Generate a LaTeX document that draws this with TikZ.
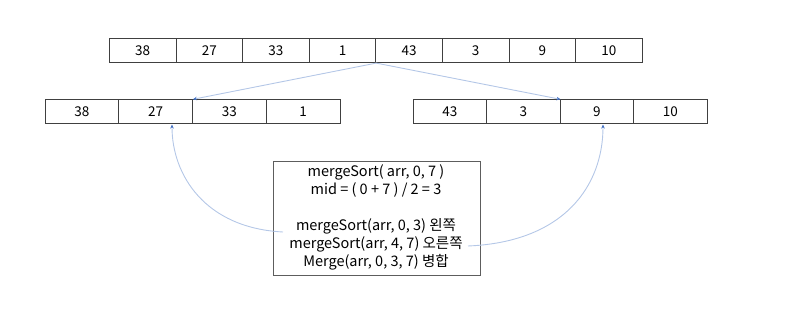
\documentclass[tikz,border=0pt]{standalone}
\usepackage{fontspec}
\setmainfont{Noto Sans CJK KR}
\usetikzlibrary{arrows.meta}
\definecolor{cellline}{HTML}{404040}
\definecolor{linkblue}{HTML}{B4C7E7}
\definecolor{tipblue}{HTML}{4472C4}
\begin{document}
\begin{tikzpicture}[x=1pt,y=-1pt,
  cell/.style={draw=cellline,line width=0.8pt,minimum height=24pt,inner sep=0pt,anchor=north west,font=\fontsize{13.5}{15}\selectfont},
  link/.style={draw=linkblue,line width=0.9pt,-{Stealth[length=4pt,width=3.5pt,color=tipblue]}},
  codebox/.style={draw=cellline!85,line width=0.8pt,minimum width=207pt,minimum height=114pt,anchor=north west,inner sep=0pt}]
\useasboundingbox (0,0) rectangle (800,312);
% top array
\foreach \v [count=\i] in {38,27,33,1,43,3,9,10}{
  \node[cell,minimum width=66.6pt] (t\i) at ({109+(\i-1)*66.6},38.3) {\v};
}
% left array
\foreach \v [count=\i] in {38,27,33,1}{
  \node[cell,minimum width=73.8pt] (l\i) at ({44.5+(\i-1)*73.8},99.3) {\v};
}
% right array
\foreach \v [count=\i] in {43,3,9,10}{
  \node[cell,minimum width=73.5pt] (r\i) at ({412.7+(\i-1)*73.5},99.3) {\v};
}
% code box
\node[codebox] (box) at (272.7,160.7) {};
\node[font=\fontsize{14.5}{18}\selectfont,align=center,anchor=north,inner sep=0pt] (code) at (376,164)
 {mergeSort( arr, 0, 7 )\\mid = ( 0 + 7 ) / 2 = 3\\[18pt]mergeSort(arr, 0, 3) 왼쪽\\mergeSort(arr, 4, 7) 오른쪽\\Merge(arr, 0, 3, 7) 병합};
% split arrows
\draw[link] (t4.south east) -- (l2.north east);
\draw[link] (t4.south east) -- (r2.north east);
% recursion arrows
\coordinate (lstart) at (283,232);
\coordinate (rstart) at (468,246);
\coordinate (lend) at (172,124.5);
\coordinate (rend) at (603,124.5);
\draw[link] (lstart) .. controls (205,228) and (172,175) .. (lend);
\draw[link] (rstart) .. controls (565,242) and (603,185) .. (rend);
\end{tikzpicture}
\end{document}
